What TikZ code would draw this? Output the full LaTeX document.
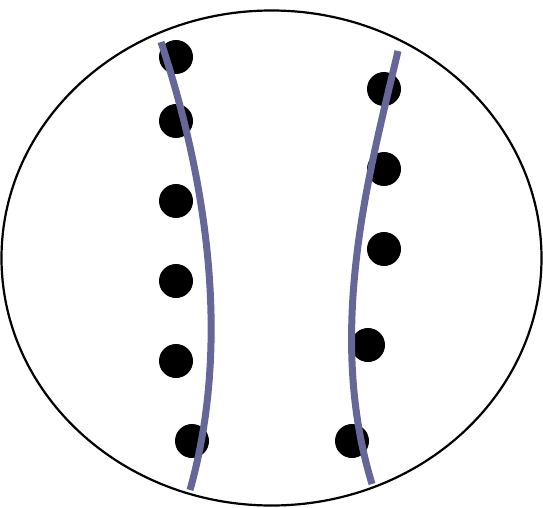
\documentclass[tikz,border=0pt]{standalone}
\begin{document}
\begin{tikzpicture}[x=1pt,y=-1pt,
  dot/.style={circle,fill=black,inner sep=0pt,minimum size=34pt},
  fibre/.style={draw={rgb,255:red,102;green,102;blue,153},line width=7pt}]
\useasboundingbox (0,0) rectangle (543,508);
\draw[line width=2.2pt] (271.5,258) ellipse [x radius=270,y radius=247.5];
\foreach \n/\x/\y in {l1/176/57,l2/176/121,l3/176/201,l4/176/281,l5/176/361,l6/192/441,
  r1/384/89,r2/384/169,r3/384/249,r4/368/345,r5/352/441}
  \node[dot] (\n) at (\x,\y) {};
\coordinate (lt) at (161,42);
\coordinate (lb) at (190,490);
\coordinate (rt) at (398,51);
\coordinate (rb) at (372,484);
\draw[fibre] (lt) .. controls (200,160) and (235,330) .. (lb);
\draw[fibre] (rt) .. controls (370,170) and (325,330) .. (rb);
\end{tikzpicture}
\end{document}
